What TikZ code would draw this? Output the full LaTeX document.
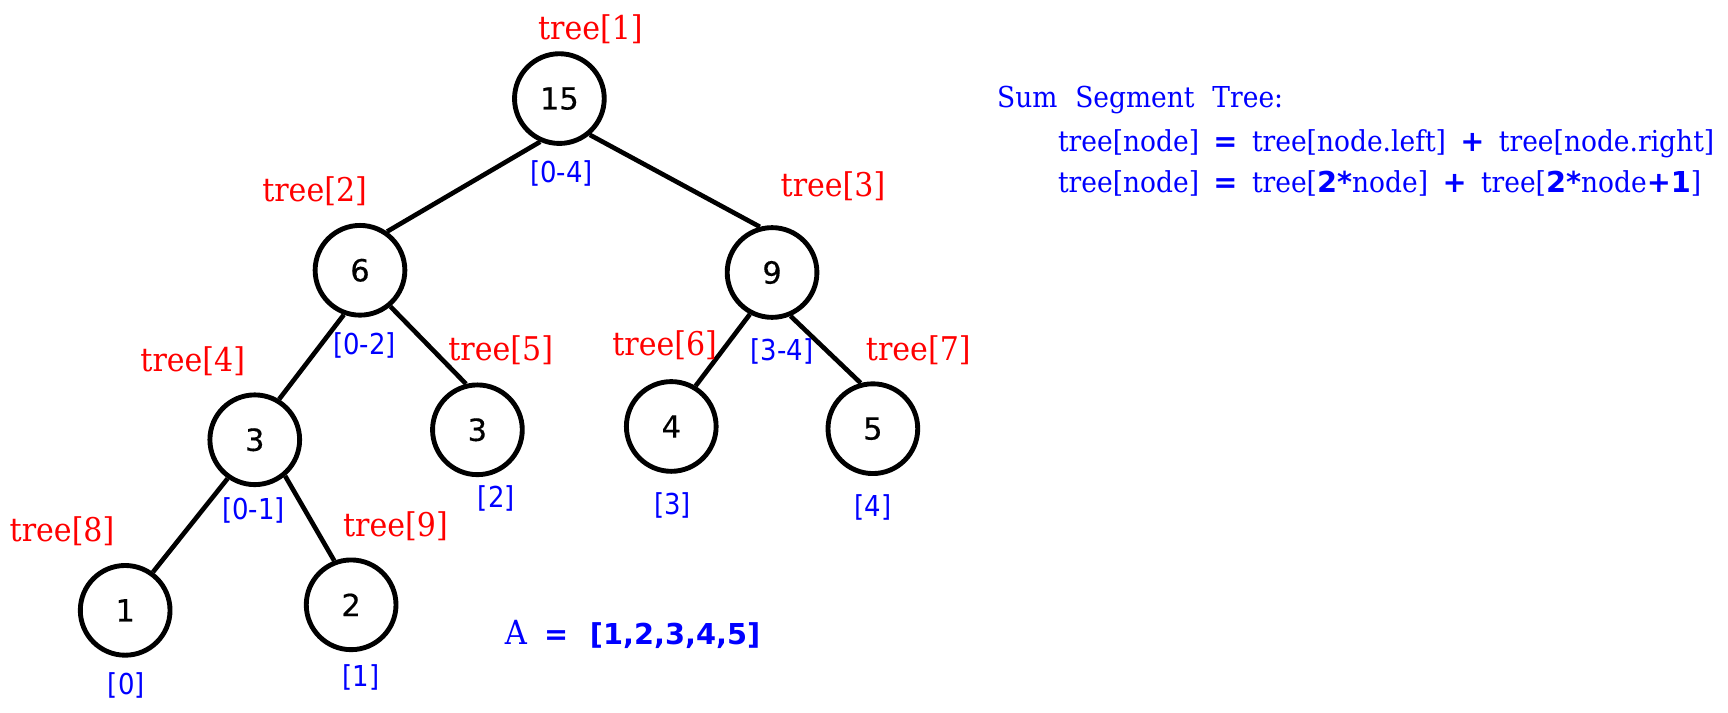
\documentclass[tikz,border=0pt]{standalone}
\usepackage{fontspec}
\newfontfamily\serifface[FakeStretch=0.92]{DejaVu Serif}
\newfontfamily\numsans{DejaVu Sans}
\newfontfamily\nodesans[FakeBold=0.4]{DejaVu Sans}
\newfontfamily\rngsans[FakeStretch=0.9]{DejaVu Sans}
\newcommand{\bs}[1]{{\numsans\bfseries #1}}
\newcommand{\gp}{\hspace{0.5em}}
\tikzset{
  tnode/.style={circle, draw=black, line width=4.4pt, minimum size=81pt, inner sep=0pt,
    font=\nodesans\fontsize{27.5}{30}\selectfont},
  treeline/.style={line width=4.2pt},
  idx/.style={text=red, font=\serifface\fontsize{29.5}{32}\selectfont, inner sep=0pt},
  rng/.style={text=blue, font=\rngsans\fontsize{26}{30}\selectfont, inner sep=0pt},
  formula/.style={text=blue, font=\serifface\fontsize{26}{30}\selectfont, anchor=west, inner sep=0pt},
}
\begin{document}
\begin{tikzpicture}[x=1pt,y=-1pt]
\useasboundingbox (0,0) rectangle (1560,643);
% tree nodes
\node[tnode] (n1) at (505,89) {15};
\node[tnode] (n2) at (325,244) {6};
\node[tnode] (n3) at (697,246) {9};
\node[tnode] (n4) at (230,397) {3};
\node[tnode] (n5) at (431,388) {3};
\node[tnode] (n6) at (606,385) {4};
\node[tnode] (n7) at (788,387) {5};
\node[tnode] (n8) at (113,551) {1};
\node[tnode] (n9) at (317,546) {2};
% connectors
\draw[treeline] (n1.246) -- (n2.55);
\draw[treeline] (n1.310) -- (n3.105);
\draw[treeline] (n2.250) -- (n4.59);
\draw[treeline] (n2.310) -- (n5.104);
\draw[treeline] (n3.242) -- (n6.59);
\draw[treeline] (n3.293) -- (n7.105);
\draw[treeline] (n4.235) -- (n8.54);
\draw[treeline] (n4.310) -- (n9.111);
% red index labels
\node[idx] (t1) at (533,26) {tree[1]};
\node[idx] (t2) at (284,173) {tree[2]};
\node[idx] (t3) at (752,168) {tree[3]};
\node[idx] (t4) at (174,326) {tree[4]};
\node[idx] (t5) at (452,316) {tree[5]};
\node[idx] (t6) at (600,312) {tree[6]};
\node[idx] (t7) at (829,316) {tree[7]};
\node[idx] (t8) at (56,480) {tree[8]};
\node[idx] (t9) at (357,475) {tree[9]};
% blue range labels
\node[rng] (r1) at (507,157) {[0-4]};
\node[rng] (r2) at (329,312) {[0-2]};
\node[rng] (r3) at (706,317) {[3-4]};
\node[rng] (r4) at (229,461) {[0-1]};
\node[rng] (r5) at (448,450) {[2]};
\node[rng] (r6) at (607,456) {[3]};
\node[rng] (r7) at (788,458) {[4]};
\node[rng] (r8) at (114,619) {[0]};
\node[rng] (r9) at (326,612) {[1]};
% array
\node[formula, anchor=center] (arr) at (571,573) {{\fontsize{30}{32}\selectfont A}\hspace{0.6em}\bs{=}\hspace{0.75em}\bs{[1,2,3,4,5]}};
% formula text
\node[formula] (f1) at (900,90) {Sum\hspace{0.62em}Segment\hspace{0.62em}Tree:};
\node[formula] (f2) at (955,130) {tree[node]\gp\bs{=}\gp tree[node.left]\gp\bs{+}\gp tree[node.right]};
\node[formula] (f3) at (955,166) {tree[node]\gp\bs{=}\gp tree[\bs{2*}node]\gp\bs{+}\gp tree[\bs{2*}node\bs{+1}]};
\end{tikzpicture}
\end{document}
